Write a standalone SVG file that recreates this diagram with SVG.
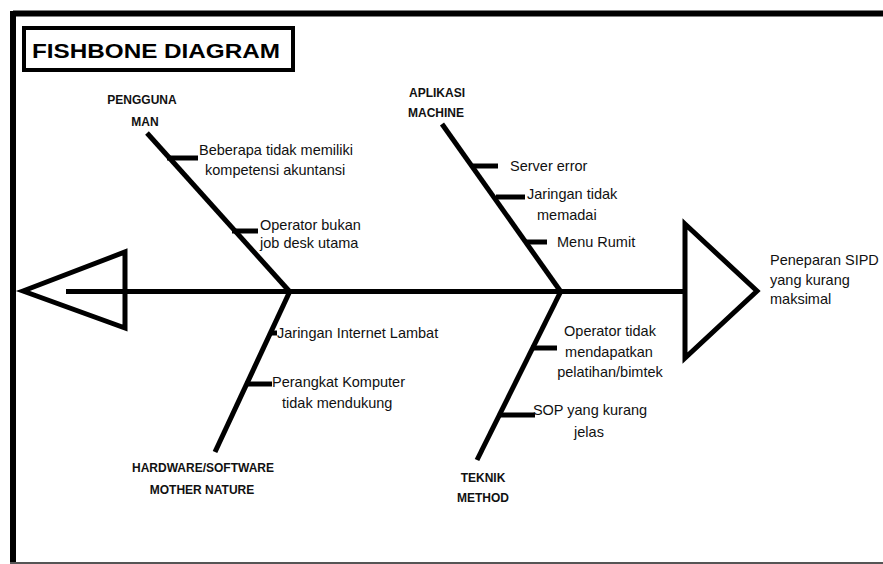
<svg xmlns="http://www.w3.org/2000/svg" width="883" height="564" viewBox="0 0 883 564">
<style>
.ln{stroke:#000;stroke-width:5;fill:none;stroke-linecap:butt}
.tri{stroke:#000;stroke-width:5;fill:none;stroke-linejoin:miter}
.t{font-family:"Liberation Sans",Arial,sans-serif;font-size:14.5px;fill:#111}
.h{font-family:"Liberation Sans",Arial,sans-serif;font-size:12px;font-weight:bold;fill:#111;text-anchor:middle}
.c{text-anchor:middle}
</style>
<rect width="883" height="564" fill="#fff"/>
<g id="frame">
<line x1="13" y1="13.5" x2="883" y2="13.5" stroke="#000" stroke-width="6"/>
<line x1="13" y1="11" x2="13" y2="564" stroke="#000" stroke-width="6"/>
<line x1="10" y1="563" x2="883" y2="563" stroke="#555" stroke-width="2"/>
</g>
<g id="title">
<rect x="24" y="28" width="269" height="42" fill="#fff" stroke="#000" stroke-width="4"/>
<text x="32" y="58" font-family="'Liberation Sans',Arial,sans-serif" font-size="21" font-weight="900" textLength="248" lengthAdjust="spacingAndGlyphs" fill="#000">FISHBONE DIAGRAM</text>
</g>
<g id="connectors">
<line class="ln" x1="66" y1="291.5" x2="685" y2="291.5"/>
<line class="ln" x1="147" y1="133" x2="290" y2="292"/>
<line class="ln" x1="442" y1="124" x2="561" y2="292"/>
<line class="ln" x1="290" y1="291" x2="215" y2="452"/>
<line class="ln" x1="561" y1="291" x2="477" y2="460"/>
<line class="ln" x1="167" y1="158" x2="198" y2="158"/>
<line class="ln" x1="232" y1="231" x2="258" y2="231"/>
<line class="ln" x1="473" y1="166" x2="498" y2="166"/>
<line class="ln" x1="496" y1="197" x2="525" y2="197"/>
<line class="ln" x1="526" y1="242" x2="547" y2="242"/>
<line class="ln" x1="270" y1="333" x2="277" y2="333"/>
<line class="ln" x1="245" y1="384" x2="272" y2="384"/>
<line class="ln" x1="531" y1="348" x2="557" y2="348"/>
<line class="ln" x1="500" y1="415" x2="535" y2="415"/>
</g>
<g id="tail">
<polygon class="tri" points="23,291 125,252 125,328"/>
</g>
<g id="head">
<polygon class="tri" points="685,224 757,291 685,358"/>
<text class="t" x="770" y="265" font-size="13.5">Peneparan SIPD</text>
<text class="t" x="770" y="285" font-size="13.5">yang kurang</text>
<text class="t" x="770" y="304" font-size="13.5">maksimal</text>
</g>
<g id="man">
<text class="h" x="142" y="104">PENGGUNA</text>
<text class="h" x="145" y="126">MAN</text>
<text class="t" x="199" y="155">Beberapa tidak memiliki</text>
<text class="t" x="205" y="175">kompetensi akuntansi</text>
<text class="t" x="260" y="230">Operator bukan</text>
<text class="t" x="260" y="248">job desk utama</text>
</g>
<g id="machine">
<text class="h" x="437" y="97">APLIKASI</text>
<text class="h" x="436" y="117">MACHINE</text>
<text class="t" x="510" y="171">Server error</text>
<text class="t" x="527" y="199">Jaringan tidak</text>
<text class="t" x="537" y="220">memadai</text>
<text class="t" x="557" y="247">Menu Rumit</text>
</g>
<g id="nature">
<text class="h" x="203" y="472">HARDWARE/SOFTWARE</text>
<text class="h" x="202" y="494">MOTHER NATURE</text>
<text class="t" x="277" y="338">Jaringan Internet Lambat</text>
<text class="t" x="272" y="387">Perangkat Komputer</text>
<text class="t" x="282" y="408">tidak mendukung</text>
</g>
<g id="method">
<text class="h" x="483" y="482">TEKNIK</text>
<text class="h" x="483" y="502">METHOD</text>
<text class="t c" x="610" y="336">Operator tidak</text>
<text class="t c" x="609" y="357">mendapatkan</text>
<text class="t c" x="610" y="377">pelatihan/bimtek</text>
<text class="t c" x="590" y="415">SOP yang kurang</text>
<text class="t c" x="589" y="437">jelas</text>
</g>
</svg>
